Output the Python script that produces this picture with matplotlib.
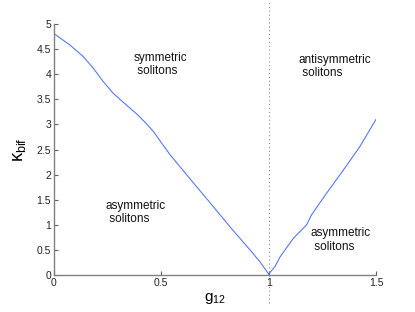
import matplotlib
matplotlib.use("Agg")
import matplotlib.pyplot as plt

# bifurcation curve, left branch (g12 < 1) and right branch (g12 > 1)
g12_left = [0.0, 0.075, 0.137, 0.183, 0.23, 0.276, 0.323, 0.385, 0.432, 0.463,
            0.54, 0.633, 0.727, 0.82, 0.913, 0.96, 1.0]
kappa_left = [4.81, 4.58, 4.35, 4.12, 3.85, 3.62, 3.44, 3.21, 3.01, 2.86,
              2.40, 1.92, 1.44, 0.96, 0.50, 0.26, 0.02]
g12_right = [1.0, 1.03, 1.053, 1.115, 1.177, 1.2, 1.27, 1.348, 1.425, 1.5]
kappa_right = [0.02, 0.17, 0.36, 0.73, 1.0, 1.2, 1.63, 2.09, 2.56, 3.1]

# region labels
region_labels = ["symmetric\n solitons", "antisymmetric\n solitons",
                 "asymmetric\n solitons", "asymmetric\n solitons"]
region_pos = [(0.373, 4.2), (1.141, 4.16), (0.242, 1.24), (1.195, 0.70)]

xticks = [0, 0.5, 1, 1.5]
yticks = [0, 0.5, 1, 1.5, 2, 2.5, 3, 3.5, 4, 4.5, 5]

plt.rcParams['font.family'] = ['Liberation Sans', 'DejaVu Sans']
plt.rcParams['mathtext.fontset'] = 'custom'
plt.rcParams['mathtext.rm'] = 'Liberation Sans'

fig = plt.figure(figsize=(4.15, 3.12), dpi=100)
ax = fig.add_axes([0.130, 0.1186, 0.776, 0.8044])

ax.plot(g12_left, kappa_left, color='#4466ff', lw=0.7)
ax.plot(g12_right, kappa_right, color='#4466ff', lw=0.7)

# dotted line at g12 = 1 running over the whole figure height
ax.axvline(1.0, ymin=-0.11, ymax=1.10, color='#888888', ls=(0, (1, 2.5)),
           lw=0.8, clip_on=False)

for label, (x, y) in zip(region_labels, region_pos):
    ax.text(x, y, label, fontsize=8.5, ha='left', va='center', color='#111111',
            linespacing=1.15)

ax.set_xlim(0, 1.5)
ax.set_ylim(0, 5)
ax.set_xticks(xticks)
ax.set_xticklabels(['0', '0.5', '1', '1.5'])
ax.set_yticks(yticks)
ax.set_yticklabels(['0', '0.5', '1', '1.5', '2', '2.5', '3', '3.5', '4', '4.5', '5'])

for side in ['top', 'right']:
    ax.spines[side].set_visible(False)
for side in ['left', 'bottom']:
    ax.spines[side].set_color('#808080')
    ax.spines[side].set_linewidth(1.0)

ax.tick_params(direction='in', length=3, width=0.8, color='#606060',
               labelsize=7.5, labelcolor='#222222', pad=2)

ax.set_xlabel(r'$\mathregular{g_{12}}$', fontsize=11, labelpad=2)
ax.set_ylabel(r'$\mathregular{κ_{bif}}$', fontsize=13, labelpad=6)

fig.savefig('out.png', dpi=100)
